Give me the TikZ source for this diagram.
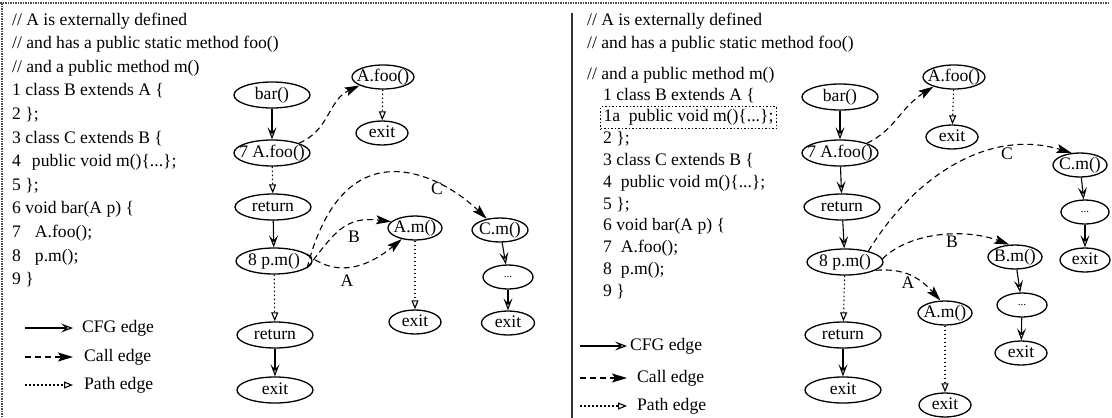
\documentclass[tikz,border=0pt]{standalone}
\usepackage{fontspec}
\setmainfont{Liberation Serif}
\usetikzlibrary{arrows.meta,shapes.geometric}
% ellipse node with its label set on top of it
\newcommand\enode[4]{\node[#3] (#1) at (#2) {}; \node[txt] (#1-t) at (#1) {#4};}
\begin{document}
\begin{tikzpicture}[x=1pt,y=1pt,
  txt/.style={inner sep=0pt, font=\fontsize{17.6}{21}\selectfont, text height=12pt, text depth=4pt},
  code/.style={txt, anchor=west},
  dots/.style={inner sep=0pt, font=\fontsize{11}{12}\selectfont},
  bigell/.style={ellipse, draw, line width=1.3pt, minimum width=76pt, minimum height=26pt, inner sep=0pt},
  ell/.style={bigell, minimum width=54pt, minimum height=24pt},
  cfgedge/.style={line width=1.1pt, -{Stealth[open, length=12pt, width=9pt, inset=5pt]}},
  calledge/.style={line width=1.1pt, dash pattern=on 6pt off 4pt, -{Stealth[length=15pt, width=9pt, inset=3pt]}},
  pathedge/.style={line width=1.1pt, dash pattern=on 1.5pt off 2.5pt, -{Triangle[open, length=9pt, width=7pt]}},
  border/.style={line width=1.3pt, black!70, dash pattern=on 1.5pt off 1pt},
  boxed/.style={draw, line width=1pt, dash pattern=on 1.5pt off 2pt, inner xsep=3pt, inner ysep=3pt}
]
\useasboundingbox (0,0) rectangle (1112,-418);

% frame and separator
\draw[border] (0,-3) -- (1108,-3);
\draw[border] (2,-3) -- (2,-418);
\draw[line width=1.3pt, black!80] (572,-13) -- (572,-418);

% ---------------- left program ----------------
\node[code] (lc1) at (12,-21) {// A is externally defined};
\node[code] (lc2) at (12,-44.6) {// and has a public static method foo()};
\node[code] (lc3) at (12,-68.2) {// and a public method m()};
\node[code] (lc4) at (12,-91.8) {1 class B extends A \{};
\node[code] (lc5) at (12,-115.4) {2 \};};
\node[code] (lc6) at (12,-139) {3 class C extends B \{};
\node[code] (lc7) at (12,-162.6) {4\hspace{11pt}public void m()\{...\};};
\node[code] (lc8) at (12,-186.2) {5 \};};
\node[code] (lc9) at (12,-209.8) {6 void bar(A p) \{};
\node[code] (lc10) at (12,-233.4) {7\hspace{14pt}A.foo();};
\node[code] (lc11) at (12,-257) {8\hspace{14pt}p.m();};
\node[code] (lc12) at (12,-280.6) {9 \}};

% left legend
\coordinate (lg1a) at (25,-328); \coordinate (lg1b) at (73,-328);
\coordinate (lg2a) at (25,-357); \coordinate (lg2b) at (73,-357);
\coordinate (lg3a) at (25,-385); \coordinate (lg3b) at (73,-385);
\draw[cfgedge] (lg1a) -- (lg1b);
\draw[calledge] (lg2a) -- (lg2b);
\draw[pathedge] (lg3a) -- (lg3b);
\node[code] (lg1t) at (82,-328) {CFG edge};
\node[code] (lg2t) at (84,-357) {Call edge};
\node[code] (lg3t) at (84,-385) {Path edge};

% left graph
\enode{Lbar}{272,-95}{bigell}{bar()}
\enode{Lfoo7}{272,-153}{bigell}{7 A.foo()}
\enode{Lret1}{273,-207}{bigell}{return}
\enode{Lpm8}{274,-261}{bigell}{8 p.m()}
\enode{Lret2}{275,-335}{bigell}{return}
\enode{Lexit}{275,-390}{bigell}{exit}
\enode{LAfoo}{383,-77}{ell, minimum width=62pt}{A.foo()}
\enode{LAfx}{382,-133}{ell, minimum width=52pt}{exit}
\enode{LAm}{415,-228}{ell}{A.m()}
\enode{LAmx}{415,-322}{ell, minimum width=52pt}{exit}
\enode{LCm}{500,-230}{ell, minimum width=56pt}{C.m()}
\node[ell, minimum width=50pt] (LCd) at (508,-277) {}; \node[dots] (LCd-t) at (LCd) {...};
\enode{LCx}{508,-323}{ell, minimum width=53pt}{exit}

\draw[cfgedge] (Lbar) -- (Lfoo7);
\draw[pathedge] (Lfoo7) -- (Lret1);
\draw[cfgedge] (Lret1) -- (Lpm8);
\draw[pathedge] (Lpm8) -- (Lret2);
\draw[cfgedge] (Lret2) -- (Lexit);
\draw[pathedge] (LAfoo) -- (LAfx);
\draw[pathedge] (LAm) -- (LAmx);
\draw[cfgedge] (LCm) -- (LCd);
\draw[cfgedge] (LCd) -- (LCx);

\draw[calledge] (Lfoo7.20) .. controls (330,-130) and (328,-100) .. (LAfoo.200);
\draw[calledge] (Lpm8.12) .. controls (332,-275) and (362,-272) .. (LAm.220);
\draw[calledge] (Lpm8.-12) .. controls (335,-232) and (345,-216) .. (LAm.165);
\draw[calledge] (Lpm8.-12) .. controls (345,-120) and (445,-178) .. (LCm.140);
\node[txt] (LlC) at (437,-190) {C};
\node[txt] (LlB) at (354,-238) {B};
\node[txt] (LlA) at (347,-282) {A};

% ---------------- right program ----------------
\node[code] (rc1) at (587,-21) {// A is externally defined};
\node[code] (rc2) at (587,-44) {// and has a public static method foo()};
\node[code] (rc3) at (587,-75) {// and a public method m()};
\node[code] (rc4) at (603,-96) {1 class B extends A \{};
\node[code, boxed] (rc5) at (600,-117.8) {1a~ public void m()\{...\};};
\node[code] (rc6) at (603,-139.6) {2 \};};
\node[code] (rc7) at (603,-161.4) {3 class C extends B \{};
\node[code] (rc8) at (603,-183.2) {4~ public void m()\{...\};};
\node[code] (rc9) at (603,-205) {5 \};};
\node[code] (rc10) at (603,-226.8) {6 void bar(A p) \{};
\node[code] (rc11) at (603,-248.6) {7\hspace{9pt}A.foo();};
\node[code] (rc12) at (603,-270.4) {8\hspace{9pt}p.m();};
\node[code] (rc13) at (603,-292.2) {9 \}};

% right legend
\coordinate (rg1a) at (580,-346); \coordinate (rg1b) at (627,-346);
\coordinate (rg2a) at (580,-378); \coordinate (rg2b) at (627,-378);
\coordinate (rg3a) at (580,-406); \coordinate (rg3b) at (627,-406);
\draw[cfgedge] (rg1a) -- (rg1b);
\draw[calledge] (rg2a) -- (rg2b);
\draw[pathedge] (rg3a) -- (rg3b);
\node[code] (rg1t) at (630,-346) {CFG edge};
\node[code] (rg2t) at (637,-378) {Call edge};
\node[code] (rg3t) at (637,-406) {Path edge};

% right graph
\enode{Rbar}{840,-97}{bigell}{bar()}
\enode{Rfoo7}{840,-153}{bigell}{7 A.foo()}
\enode{Rret1}{842,-207}{bigell}{return}
\enode{Rpm8}{845,-262}{bigell}{8 p.m()}
\enode{Rret2}{843,-335}{bigell}{return}
\enode{Rexit}{843,-390}{bigell}{exit}
\enode{RAfoo}{954,-77}{ell, minimum width=62pt}{A.foo()}
\enode{RAfx}{952,-137}{ell, minimum width=52pt}{exit}
\enode{RCm}{1080,-165}{ell}{C.m()}
\node[ell, minimum width=48pt] (RCd) at (1085,-212) {}; \node[dots] (RCd-t) at (RCd) {...};
\enode{RCx}{1085,-260}{ell, minimum width=50pt}{exit}
\enode{RBm}{1015,-257}{ell}{B.m()}
\node[ell, minimum width=50pt] (RBd) at (1022,-305) {}; \node[dots] (RBd-t) at (RBd) {...};
\enode{RBx}{1021,-353}{ell, minimum width=52pt}{exit}
\enode{RAm}{945,-313}{ell}{A.m()}
\enode{RAmx}{945,-405}{ell, minimum width=52pt}{exit}

\draw[cfgedge] (Rbar) -- (Rfoo7);
\draw[cfgedge] (Rfoo7) -- (Rret1);
\draw[cfgedge] (Rret1) -- (Rpm8);
\draw[pathedge] (Rpm8) -- (Rret2);
\draw[cfgedge] (Rret2) -- (Rexit);
\draw[pathedge] (RAfoo) -- (RAfx);
\draw[cfgedge] (RCm) -- (RCd);
\draw[cfgedge] (RCd) -- (RCx);
\draw[cfgedge] (RBm) -- (RBd);
\draw[cfgedge] (RBd) -- (RBx);
\draw[pathedge] (RAm) -- (RAmx);

\draw[calledge] (Rfoo7.20) .. controls (895,-130) and (900,-108) .. (RAfoo.205);
\draw[calledge] (Rpm8.25) .. controls (915,-175) and (990,-128) .. (RCm.125);
\draw[calledge] (Rpm8.5) .. controls (910,-232) and (965,-228) .. (RBm.115);
\draw[calledge] (Rpm8.-15) .. controls (905,-268) and (920,-278) .. (RAm.110);
\node[txt] (RlC) at (1007,-155) {C};
\node[txt] (RlB) at (952,-243) {B};
\node[txt] (RlA) at (908,-284) {A};
\end{tikzpicture}
\end{document}
